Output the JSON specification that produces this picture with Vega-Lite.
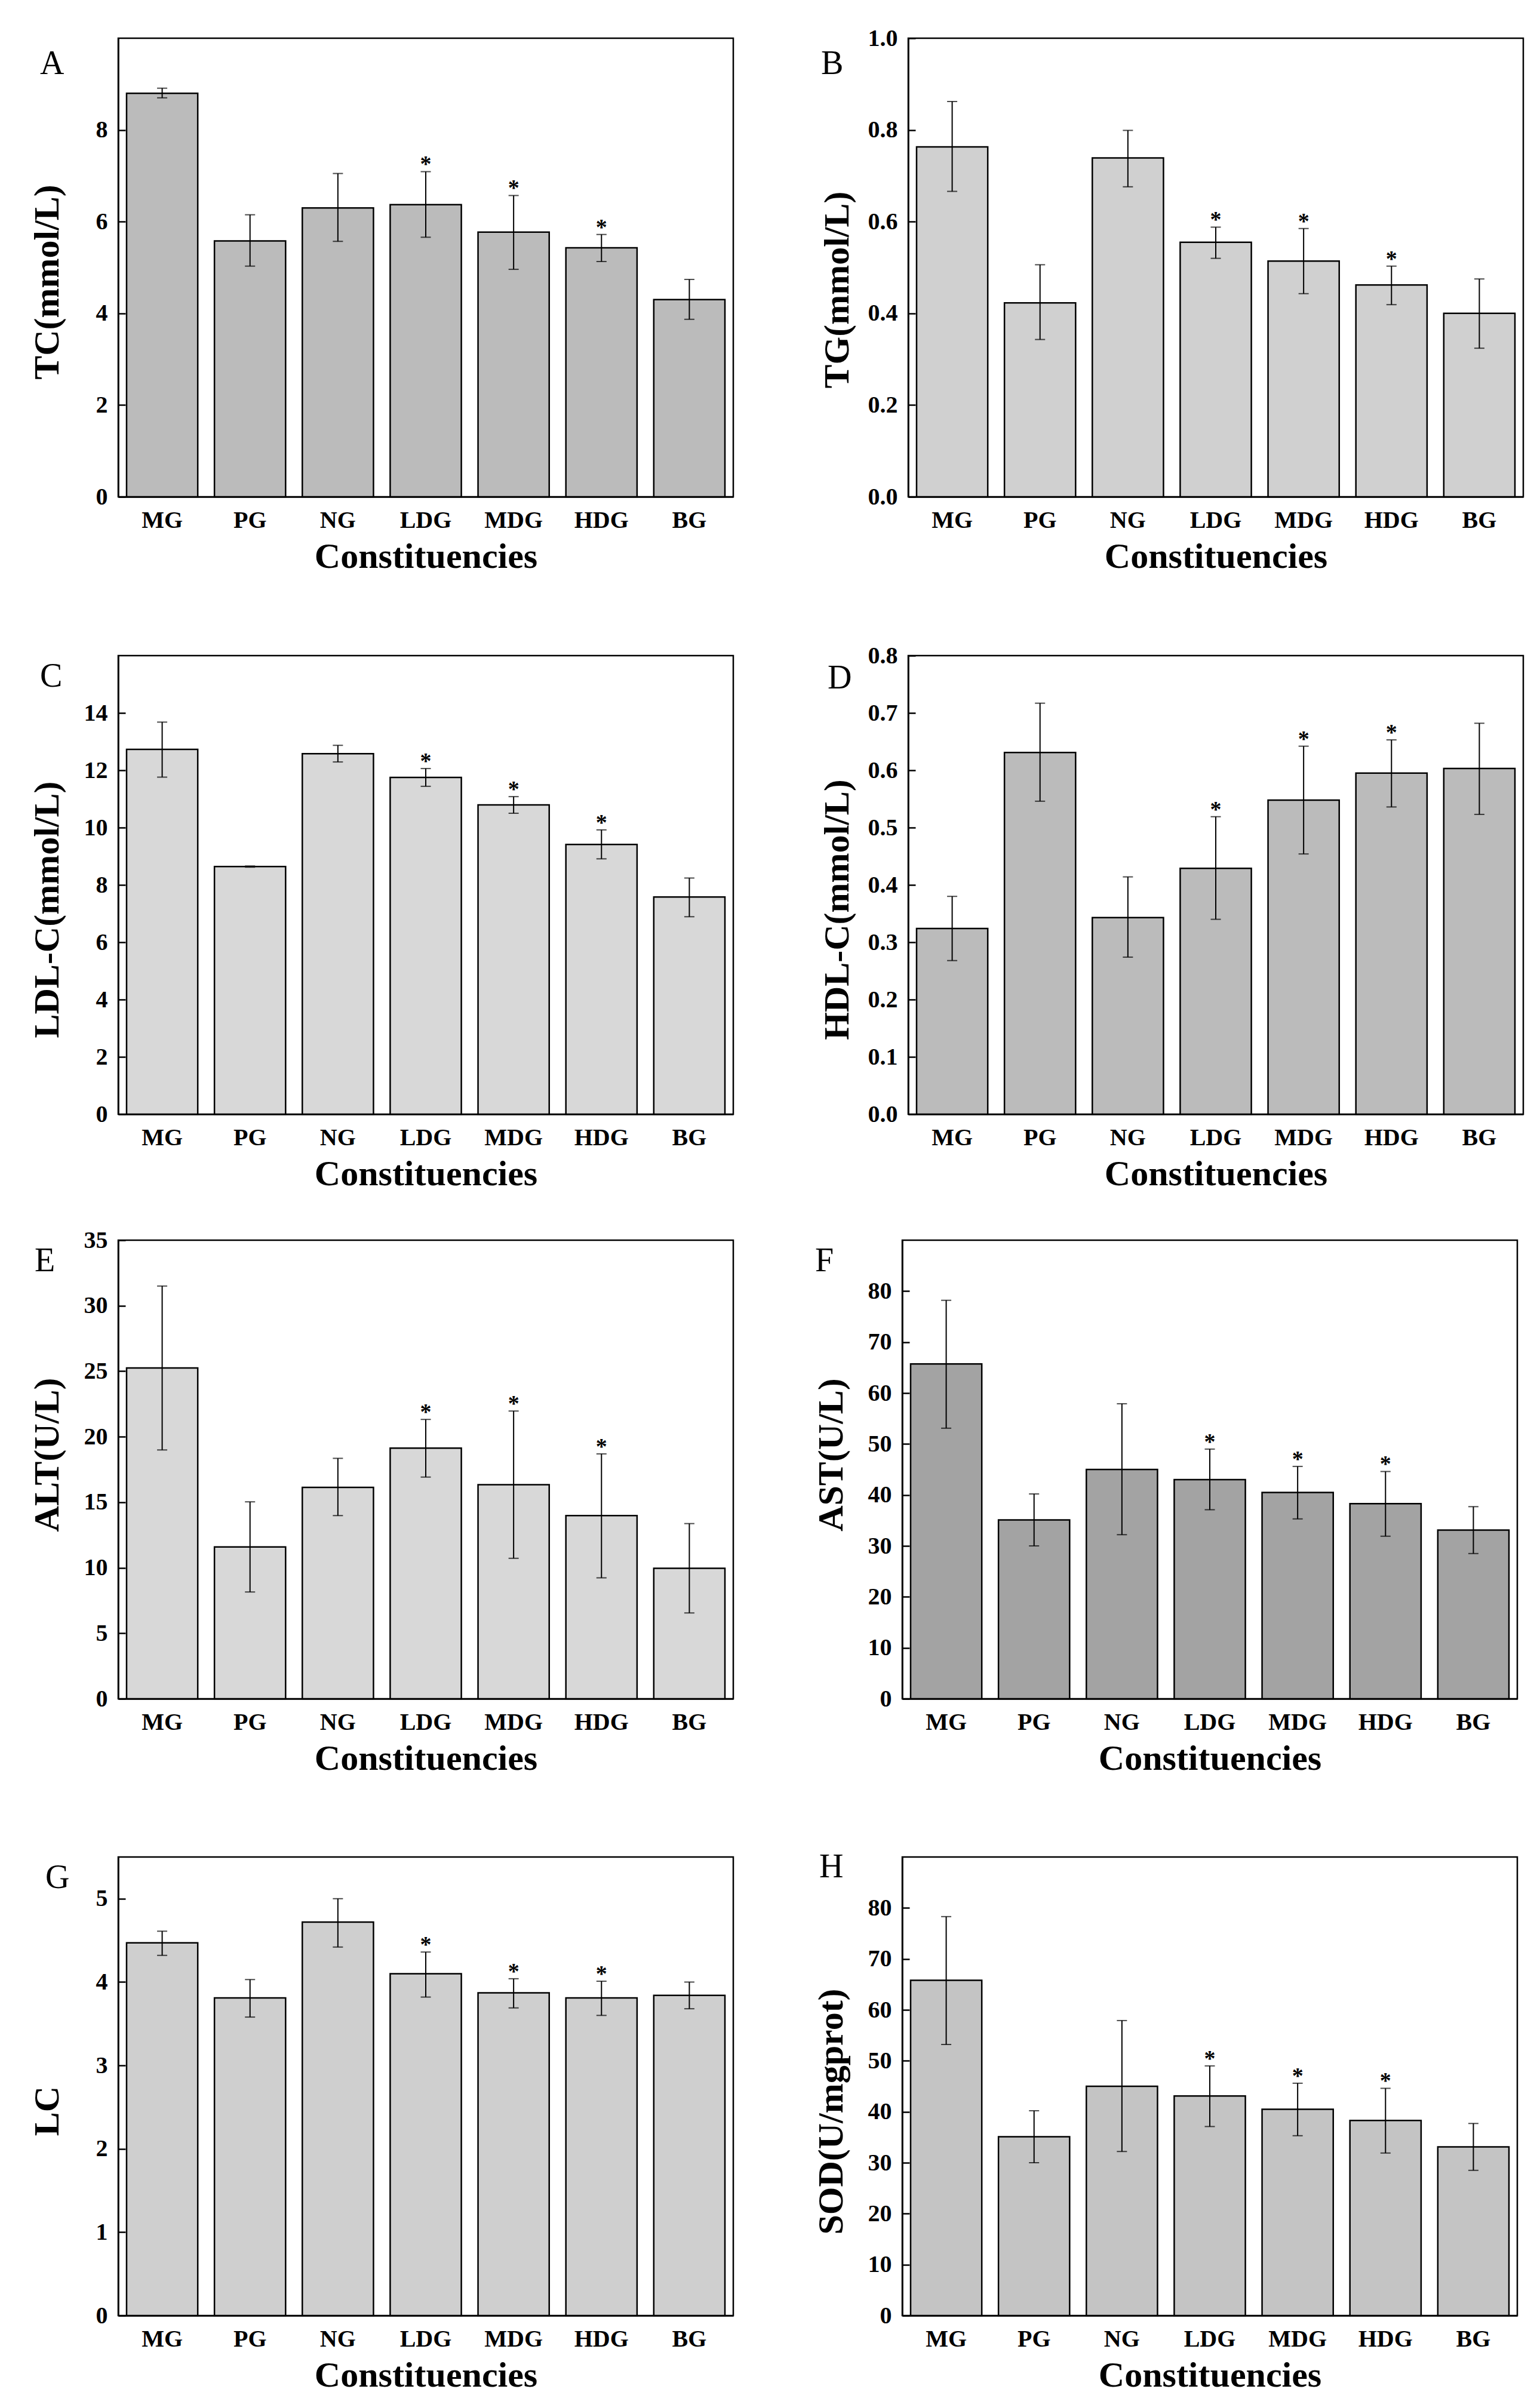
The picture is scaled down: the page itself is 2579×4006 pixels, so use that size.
{
"$schema": "https://vega.github.io/schema/vega-lite/v6.json",
"background": "white",
"padding": {"left": 47, "top": 42, "right": 10, "bottom": 5},
"config": {
  "font": "Liberation Serif",
  "view": {"stroke": "black", "strokeWidth": 2.5},
  "axis": {"grid": false, "domainColor": "black", "domainWidth": 2.5, "tickColor": "black", "tickWidth": 2.5,
    "labelColor": "black", "labelFont": "Liberation Serif", "labelFontSize": 40, "labelFontWeight": "bold",
    "titleColor": "black", "titleFont": "Liberation Serif", "titleFontSize": 60, "titleFontWeight": "bold"},
  "axisX": {"labelAngle": 0, "tickSize": -13, "labelPadding": 32, "titlePadding": 12},
  "axisY": {"tickSize": -12, "labelPadding": 30, "minExtent": 72, "maxExtent": 72, "titlePadding": 16},
  "title": {"anchor": "start", "frame": "group", "orient": "bottom", "offset": 0, "baseline": "top", "fontSize": 56, "fontWeight": "normal", "font": "Liberation Serif", "color": "black"},
  "text": {"font": "Liberation Serif"}
},
"datasets": {
  "TC": [
    {"group": "MG", "mean": 8.80, "lo": 8.70, "hi": 8.91, "sig": ""},
    {"group": "PG", "mean": 5.58, "lo": 5.03, "hi": 6.15, "sig": ""},
    {"group": "NG", "mean": 6.30, "lo": 5.57, "hi": 7.05, "sig": ""},
    {"group": "LDG", "mean": 6.37, "lo": 5.66, "hi": 7.09, "sig": "*"},
    {"group": "MDG", "mean": 5.77, "lo": 4.96, "hi": 6.57, "sig": "*"},
    {"group": "HDG", "mean": 5.43, "lo": 5.13, "hi": 5.72, "sig": "*"},
    {"group": "BG", "mean": 4.30, "lo": 3.87, "hi": 4.74, "sig": ""}
  ],
  "TG": [
    {"group": "MG", "mean": 0.763, "lo": 0.666, "hi": 0.862, "sig": ""},
    {"group": "PG", "mean": 0.423, "lo": 0.343, "hi": 0.506, "sig": ""},
    {"group": "NG", "mean": 0.739, "lo": 0.676, "hi": 0.799, "sig": ""},
    {"group": "LDG", "mean": 0.555, "lo": 0.520, "hi": 0.588, "sig": "*"},
    {"group": "MDG", "mean": 0.514, "lo": 0.443, "hi": 0.585, "sig": "*"},
    {"group": "HDG", "mean": 0.462, "lo": 0.419, "hi": 0.503, "sig": "*"},
    {"group": "BG", "mean": 0.400, "lo": 0.324, "hi": 0.475, "sig": ""}
  ],
  "LDL": [
    {"group": "MG", "mean": 12.73, "lo": 11.76, "hi": 13.68, "sig": ""},
    {"group": "PG", "mean": 8.64, "lo": 8.62, "hi": 8.66, "sig": ""},
    {"group": "NG", "mean": 12.58, "lo": 12.29, "hi": 12.87, "sig": ""},
    {"group": "LDG", "mean": 11.75, "lo": 11.44, "hi": 12.06, "sig": "*"},
    {"group": "MDG", "mean": 10.79, "lo": 10.50, "hi": 11.08, "sig": "*"},
    {"group": "HDG", "mean": 9.41, "lo": 8.91, "hi": 9.92, "sig": "*"},
    {"group": "BG", "mean": 7.58, "lo": 6.89, "hi": 8.24, "sig": ""}
  ],
  "HDL": [
    {"group": "MG", "mean": 0.324, "lo": 0.268, "hi": 0.380, "sig": ""},
    {"group": "PG", "mean": 0.631, "lo": 0.546, "hi": 0.717, "sig": ""},
    {"group": "NG", "mean": 0.343, "lo": 0.274, "hi": 0.414, "sig": ""},
    {"group": "LDG", "mean": 0.429, "lo": 0.340, "hi": 0.519, "sig": "*"},
    {"group": "MDG", "mean": 0.548, "lo": 0.454, "hi": 0.642, "sig": "*"},
    {"group": "HDG", "mean": 0.595, "lo": 0.536, "hi": 0.653, "sig": "*"},
    {"group": "BG", "mean": 0.603, "lo": 0.523, "hi": 0.682, "sig": ""}
  ],
  "ALT": [
    {"group": "MG", "mean": 25.25, "lo": 18.99, "hi": 31.50, "sig": ""},
    {"group": "PG", "mean": 11.59, "lo": 8.15, "hi": 15.03, "sig": ""},
    {"group": "NG", "mean": 16.13, "lo": 13.98, "hi": 18.35, "sig": ""},
    {"group": "LDG", "mean": 19.13, "lo": 16.92, "hi": 21.32, "sig": "*"},
    {"group": "MDG", "mean": 16.34, "lo": 10.72, "hi": 21.96, "sig": "*"},
    {"group": "HDG", "mean": 13.98, "lo": 9.23, "hi": 18.69, "sig": "*"},
    {"group": "BG", "mean": 9.96, "lo": 6.55, "hi": 13.37, "sig": ""}
  ],
  "AST": [
    {"group": "MG", "mean": 65.7, "lo": 53.1, "hi": 78.2, "sig": ""},
    {"group": "PG", "mean": 35.1, "lo": 30.0, "hi": 40.2, "sig": ""},
    {"group": "NG", "mean": 45.0, "lo": 32.2, "hi": 57.9, "sig": ""},
    {"group": "LDG", "mean": 43.0, "lo": 37.1, "hi": 49.0, "sig": "*"},
    {"group": "MDG", "mean": 40.5, "lo": 35.3, "hi": 45.6, "sig": "*"},
    {"group": "HDG", "mean": 38.3, "lo": 31.9, "hi": 44.6, "sig": "*"},
    {"group": "BG", "mean": 33.1, "lo": 28.5, "hi": 37.7, "sig": ""}
  ],
  "LC": [
    {"group": "MG", "mean": 4.47, "lo": 4.32, "hi": 4.61, "sig": ""},
    {"group": "PG", "mean": 3.81, "lo": 3.58, "hi": 4.03, "sig": ""},
    {"group": "NG", "mean": 4.72, "lo": 4.42, "hi": 5.00, "sig": ""},
    {"group": "LDG", "mean": 4.10, "lo": 3.82, "hi": 4.36, "sig": "*"},
    {"group": "MDG", "mean": 3.87, "lo": 3.69, "hi": 4.04, "sig": "*"},
    {"group": "HDG", "mean": 3.81, "lo": 3.60, "hi": 4.01, "sig": "*"},
    {"group": "BG", "mean": 3.84, "lo": 3.68, "hi": 4.00, "sig": ""}
  ],
  "SOD": [
    {"group": "MG", "mean": 65.8, "lo": 53.2, "hi": 78.3, "sig": ""},
    {"group": "PG", "mean": 35.1, "lo": 30.0, "hi": 40.2, "sig": ""},
    {"group": "NG", "mean": 45.0, "lo": 32.2, "hi": 57.9, "sig": ""},
    {"group": "LDG", "mean": 43.1, "lo": 37.1, "hi": 49.0, "sig": "*"},
    {"group": "MDG", "mean": 40.5, "lo": 35.3, "hi": 45.6, "sig": "*"},
    {"group": "HDG", "mean": 38.3, "lo": 31.9, "hi": 44.6, "sig": "*"},
    {"group": "BG", "mean": 33.1, "lo": 28.5, "hi": 37.7, "sig": ""}
  ]
},
"spacing": 112,
"vconcat": [
  {"hconcat": [
    {"width": 1030, "height": 768, "data": {"name": "TC"},
     "title": {"text": "A", "dx": -131, "dy": -886, "baseline": "top"},
     "encoding": {"x": {"field": "group", "type": "nominal", "sort": ["MG","PG","NG","LDG","MDG","HDG","BG"], "scale": {"paddingInner": 0.19, "paddingOuter": 0.095}, "axis": {"title": "Constituencies"}}},
     "layer": [
       {"mark": {"type": "bar", "fill": "#bbbbbb", "stroke": "black", "strokeWidth": 2.5},
        "encoding": {"y": {"field": "mean", "type": "quantitative", "title": "TC(mmol/L)", "scale": {"domain": [0, 9.5]}, "axis": {"values": [0,2,4,6,8], "format": "d", "titleY": 408}}}},
       {"mark": {"type": "errorbar", "ticks": {"size": 17, "thickness": 2, "color": "black"}, "rule": {"strokeWidth": 2, "color": "black"}},
        "encoding": {"y": {"field": "lo", "type": "quantitative", "title": "TC(mmol/L)"}, "y2": {"field": "hi"}}},
       {"mark": {"type": "text", "fontSize": 38, "fontWeight": "bold", "baseline": "alphabetic", "color": "black"},
        "encoding": {"y": {"field": "hi", "type": "quantitative", "title": "TC(mmol/L)"}, "text": {"field": "sig"}}}
     ]},
    {"width": 1030, "height": 768, "data": {"name": "TG"},
     "title": {"text": "B", "dx": -146, "dy": -886, "baseline": "top"},
     "encoding": {"x": {"field": "group", "type": "nominal", "sort": ["MG","PG","NG","LDG","MDG","HDG","BG"], "scale": {"paddingInner": 0.19, "paddingOuter": 0.095}, "axis": {"title": "Constituencies"}}},
     "layer": [
       {"mark": {"type": "bar", "fill": "#d0d0d0", "stroke": "black", "strokeWidth": 2.5},
        "encoding": {"y": {"field": "mean", "type": "quantitative", "title": "TG(mmol/L)", "scale": {"domain": [0, 1.0]}, "axis": {"values": [0,0.2,0.4,0.6,0.8,1.0], "format": ".1f", "titleY": 421}}}},
       {"mark": {"type": "errorbar", "ticks": {"size": 17, "thickness": 2, "color": "black"}, "rule": {"strokeWidth": 2, "color": "black"}},
        "encoding": {"y": {"field": "lo", "type": "quantitative", "title": "TG(mmol/L)"}, "y2": {"field": "hi"}}},
       {"mark": {"type": "text", "fontSize": 38, "fontWeight": "bold", "baseline": "alphabetic", "color": "black"},
        "encoding": {"y": {"field": "hi", "type": "quantitative", "title": "TG(mmol/L)"}, "text": {"field": "sig"}}}
     ]}
  ], "spacing": 140},
  {"spacing": 57, "vconcat": [
    {"hconcat": [
      {"width": 1030, "height": 768, "data": {"name": "LDL"},
       "title": {"text": "C", "dx": -131, "dy": -894, "baseline": "top"},
       "encoding": {"x": {"field": "group", "type": "nominal", "sort": ["MG","PG","NG","LDG","MDG","HDG","BG"], "scale": {"paddingInner": 0.19, "paddingOuter": 0.095}, "axis": {"title": "Constituencies"}}},
       "layer": [
         {"mark": {"type": "bar", "fill": "#d8d8d8", "stroke": "black", "strokeWidth": 2.5},
          "encoding": {"y": {"field": "mean", "type": "quantitative", "title": "LDL-C(mmol/L)", "scale": {"domain": [0, 15]}, "axis": {"values": [0,2,4,6,8,10,12,14], "format": "d", "titleY": 425}}}},
         {"mark": {"type": "errorbar", "ticks": {"size": 17, "thickness": 2, "color": "black"}, "rule": {"strokeWidth": 2, "color": "black"}},
          "encoding": {"y": {"field": "lo", "type": "quantitative", "title": "LDL-C(mmol/L)"}, "y2": {"field": "hi"}}},
         {"mark": {"type": "text", "fontSize": 38, "fontWeight": "bold", "baseline": "alphabetic", "color": "black"},
          "encoding": {"y": {"field": "hi", "type": "quantitative", "title": "LDL-C(mmol/L)"}, "text": {"field": "sig"}}}
       ]},
      {"width": 1030, "height": 768, "data": {"name": "HDL"},
       "title": {"text": "D", "dx": -135, "dy": -891, "baseline": "top"},
       "encoding": {"x": {"field": "group", "type": "nominal", "sort": ["MG","PG","NG","LDG","MDG","HDG","BG"], "scale": {"paddingInner": 0.19, "paddingOuter": 0.095}, "axis": {"title": "Constituencies"}}},
       "layer": [
         {"mark": {"type": "bar", "fill": "#bbbbbb", "stroke": "black", "strokeWidth": 2.5},
          "encoding": {"y": {"field": "mean", "type": "quantitative", "title": "HDL-C(mmol/L)", "scale": {"domain": [0, 0.8]}, "axis": {"values": [0,0.1,0.2,0.3,0.4,0.5,0.6,0.7,0.8], "format": ".1f", "titleY": 425}}}},
         {"mark": {"type": "errorbar", "ticks": {"size": 17, "thickness": 2, "color": "black"}, "rule": {"strokeWidth": 2, "color": "black"}},
          "encoding": {"y": {"field": "lo", "type": "quantitative", "title": "HDL-C(mmol/L)"}, "y2": {"field": "hi"}}},
         {"mark": {"type": "text", "fontSize": 38, "fontWeight": "bold", "baseline": "alphabetic", "color": "black"},
          "encoding": {"y": {"field": "hi", "type": "quantitative", "title": "HDL-C(mmol/L)"}, "text": {"field": "sig"}}}
       ]}
    ], "spacing": 140},
    {"spacing": 120, "vconcat": [
      {"hconcat": [
        {"width": 1030, "height": 768, "data": {"name": "ALT"},
         "title": {"text": "E", "dx": -140, "dy": -894, "baseline": "top"},
         "encoding": {"x": {"field": "group", "type": "nominal", "sort": ["MG","PG","NG","LDG","MDG","HDG","BG"], "scale": {"paddingInner": 0.19, "paddingOuter": 0.095}, "axis": {"title": "Constituencies"}}},
         "layer": [
           {"mark": {"type": "bar", "fill": "#d8d8d8", "stroke": "black", "strokeWidth": 2.5},
            "encoding": {"y": {"field": "mean", "type": "quantitative", "title": "ALT(U/L)", "scale": {"domain": [0, 35]}, "axis": {"values": [0,5,10,15,20,25,30,35], "format": "d", "titleY": 359}}}},
           {"mark": {"type": "errorbar", "ticks": {"size": 17, "thickness": 2, "color": "black"}, "rule": {"strokeWidth": 2, "color": "black"}},
            "encoding": {"y": {"field": "lo", "type": "quantitative", "title": "ALT(U/L)"}, "y2": {"field": "hi"}}},
           {"mark": {"type": "text", "fontSize": 38, "fontWeight": "bold", "baseline": "alphabetic", "color": "black"},
            "encoding": {"y": {"field": "hi", "type": "quantitative", "title": "ALT(U/L)"}, "text": {"field": "sig"}}}
         ]},
        {"width": 1030, "height": 768, "data": {"name": "AST"},
         "title": {"text": "F", "dx": -146, "dy": -894, "baseline": "top"},
         "encoding": {"x": {"field": "group", "type": "nominal", "sort": ["MG","PG","NG","LDG","MDG","HDG","BG"], "scale": {"paddingInner": 0.19, "paddingOuter": 0.095}, "axis": {"title": "Constituencies"}}},
         "layer": [
           {"mark": {"type": "bar", "fill": "#a3a3a3", "stroke": "black", "strokeWidth": 2.5},
            "encoding": {"y": {"field": "mean", "type": "quantitative", "title": "AST(U/L)", "scale": {"domain": [0, 85]}, "axis": {"values": [0,10,20,30,40,50,60,70,80], "format": "d", "titleY": 359}}}},
           {"mark": {"type": "errorbar", "ticks": {"size": 17, "thickness": 2, "color": "black"}, "rule": {"strokeWidth": 2, "color": "black"}},
            "encoding": {"y": {"field": "lo", "type": "quantitative", "title": "AST(U/L)"}, "y2": {"field": "hi"}}},
           {"mark": {"type": "text", "fontSize": 38, "fontWeight": "bold", "baseline": "alphabetic", "color": "black"},
            "encoding": {"y": {"field": "hi", "type": "quantitative", "title": "AST(U/L)"}, "text": {"field": "sig"}}}
         ]}
      ], "spacing": 130},
      {"hconcat": [
        {"width": 1030, "height": 768, "data": {"name": "LC"},
         "title": {"text": "G", "dx": -122, "dy": -894, "baseline": "top"},
         "encoding": {"x": {"field": "group", "type": "nominal", "sort": ["MG","PG","NG","LDG","MDG","HDG","BG"], "scale": {"paddingInner": 0.19, "paddingOuter": 0.095}, "axis": {"title": "Constituencies"}}},
         "layer": [
           {"mark": {"type": "bar", "fill": "#cfcfcf", "stroke": "black", "strokeWidth": 2.5},
            "encoding": {"y": {"field": "mean", "type": "quantitative", "title": "LC", "scale": {"domain": [0, 5.5]}, "axis": {"values": [0,1,2,3,4,5], "format": "d", "titleY": 425}}}},
           {"mark": {"type": "errorbar", "ticks": {"size": 17, "thickness": 2, "color": "black"}, "rule": {"strokeWidth": 2, "color": "black"}},
            "encoding": {"y": {"field": "lo", "type": "quantitative", "title": "LC"}, "y2": {"field": "hi"}}},
           {"mark": {"type": "text", "fontSize": 38, "fontWeight": "bold", "baseline": "alphabetic", "color": "black"},
            "encoding": {"y": {"field": "hi", "type": "quantitative", "title": "LC"}, "text": {"field": "sig"}}}
         ]},
        {"width": 1030, "height": 768, "data": {"name": "SOD"},
         "title": {"text": "H", "dx": -139, "dy": -912, "baseline": "top"},
         "encoding": {"x": {"field": "group", "type": "nominal", "sort": ["MG","PG","NG","LDG","MDG","HDG","BG"], "scale": {"paddingInner": 0.19, "paddingOuter": 0.095}, "axis": {"title": "Constituencies"}}},
         "layer": [
           {"mark": {"type": "bar", "fill": "#c4c4c4", "stroke": "black", "strokeWidth": 2.5},
            "encoding": {"y": {"field": "mean", "type": "quantitative", "title": "SOD(U/mgprot)", "scale": {"domain": [0, 85]}, "axis": {"values": [0,10,20,30,40,50,60,70,80], "format": "d", "titleY": 426}}}},
           {"mark": {"type": "errorbar", "ticks": {"size": 17, "thickness": 2, "color": "black"}, "rule": {"strokeWidth": 2, "color": "black"}},
            "encoding": {"y": {"field": "lo", "type": "quantitative", "title": "SOD(U/mgprot)"}, "y2": {"field": "hi"}}},
           {"mark": {"type": "text", "fontSize": 38, "fontWeight": "bold", "baseline": "alphabetic", "color": "black"},
            "encoding": {"y": {"field": "hi", "type": "quantitative", "title": "SOD(U/mgprot)"}, "text": {"field": "sig"}}}
         ]}
      ], "spacing": 130}
    ]}
  ]}
]
}
